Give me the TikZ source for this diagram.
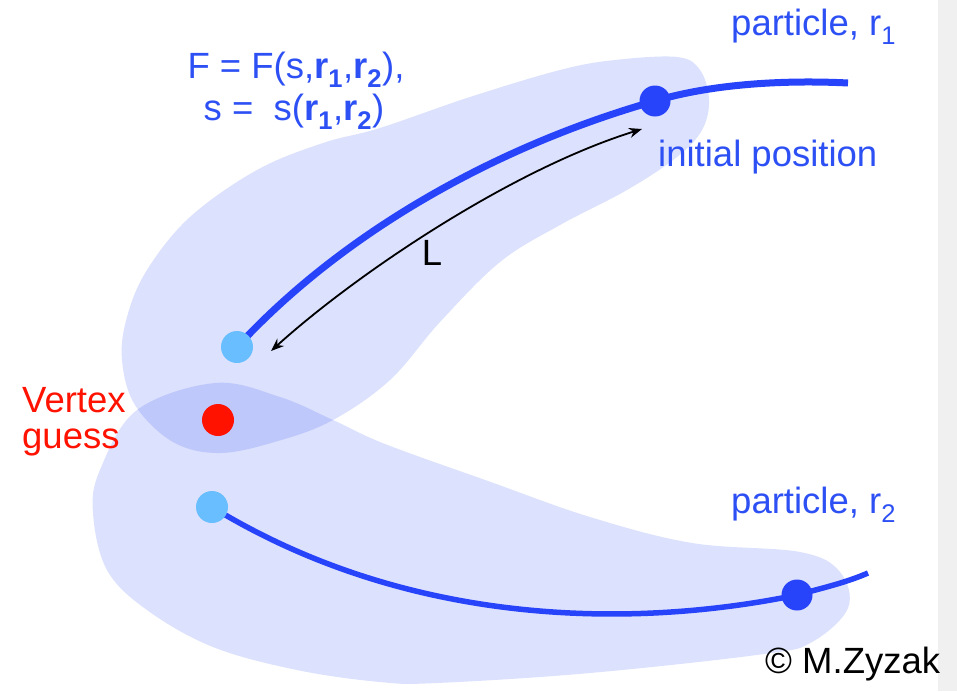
\documentclass[tikz,border=0pt]{standalone}
\usepackage{fontspec}
\setmainfont{Liberation Sans}
\usetikzlibrary{arrows.meta}
\definecolor{lineblue}{RGB}{40,68,250}
\definecolor{txtblue}{RGB}{45,80,245}
\definecolor{lightdot}{RGB}{105,190,255}
\definecolor{vtxred}{RGB}{255,18,0}
\definecolor{blobfill}{RGB}{62,90,244}
\definecolor{stripgray}{RGB}{240,240,240}
\tikzset{
  blob/.style={fill=blobfill, fill opacity=0.18, draw=none},
  trackthick/.style={draw=lineblue, line width=7pt},
  trackthin/.style={draw=lineblue, line width=5.5pt},
  darkdot/.style={circle, fill=lineblue, minimum size=31pt, inner sep=0pt},
  startdot/.style={circle, fill=lightdot, minimum size=32pt, inner sep=0pt},
  vtxdot/.style={circle, fill=vtxred, minimum size=32pt, inner sep=0pt},
  lbl/.style={font=\fontsize{36.5}{42}\selectfont, inner sep=0pt},
  lenarrow/.style={draw=black, line width=1.8pt, {Stealth[length=13pt,width=10pt]}-{Stealth[length=13pt,width=10pt]}}
}
\begin{document}
\begin{tikzpicture}[x=1pt,y=-1pt]
\useasboundingbox (0,0) rectangle (957,691);
\fill[white] (0,0) rectangle (957,691);
\fill[stripgray] (938,0) rectangle (957,691);

% blobs
\fill[blob] plot[smooth cycle, tension=0.6] coordinates {
  (677,57) (700,70) (709,100) (702,130) (677,157) (627,190) (560,225)
  (500,262) (440,322) (390,380) (333,420) (278,441) (220,453) (173,442)
  (135,405) (122,360) (127,317) (147,270) (190,217) (257,170) (323,143)
  (380,128) (470,97) (560,70) (615,60)};
\fill[blob] plot[smooth cycle, tension=0.6] coordinates {
  (215,383) (280,397) (333,420) (385,444) (488,481) (590,517) (692,543)
  (800,552) (840,572) (848,608) (812,642) (764,654) (590,673) (437,683)
  (380,682) (297,670) (213,647) (147,610) (107,570) (93,513) (100,470)
  (137,410)};

% dots
\coordinate (e1) at (848,83);
\coordinate (e2) at (868,573);
\coordinate (c1) at (237,347);
\coordinate (c2) at (655,101);
\coordinate (c3) at (212,507);
\coordinate (c4) at (797,595);

% tracks
\draw[trackthick] (c1) .. controls (345,230) and (500,145) .. (c2)
   .. controls (715,83) and (790,80) .. (e1);
\draw[trackthin] (c3) .. controls (405,625) and (627,630) .. (c4)
   .. controls (822,588) and (845,583) .. (e2);

\node[startdot] (s1) at (c1) {};
\node[darkdot]  (p1) at (c2) {};
\node[startdot] (s2) at (c3) {};
\node[darkdot]  (p2) at (c4) {};
\node[vtxdot]   (v)  at (218,420) {};

% length arrow
\coordinate (a1) at (271,351);
\coordinate (a2) at (642,129);
\draw[lenarrow] (a1) .. controls (355,275) and (510,170) .. (a2);
\node[lbl] (L) at (432,253) {L};

% labels
\node[lbl, text=txtblue, anchor=base west] (lp1) at (731,35) {particle, r\textsubscript{1}};
\node[lbl, text=txtblue, anchor=base west] (lip) at (658,166) {initial position};
\node[lbl, text=txtblue, anchor=base west] (lp2) at (731,513) {particle, r\textsubscript{2}};
\node[lbl, text=txtblue, anchor=base] (f1) at (296,78) {F = F(s,\textbf{r}\textsubscript{\textbf{1}},\textbf{r}\textsubscript{\textbf{2}}),};
\node[lbl, text=txtblue, anchor=base] (f2) at (294,120) {s =\ \ s(\textbf{r}\textsubscript{\textbf{1}},\textbf{r}\textsubscript{\textbf{2}})};
\node[lbl, text=vtxred, anchor=base west] (vt1) at (22,412) {Vertex};
\node[lbl, text=vtxred, anchor=base west] (vt2) at (22,448) {guess};
\node[lbl, anchor=base west] (cp) at (765,673) {© M.Zyzak};
\end{tikzpicture}
\end{document}
